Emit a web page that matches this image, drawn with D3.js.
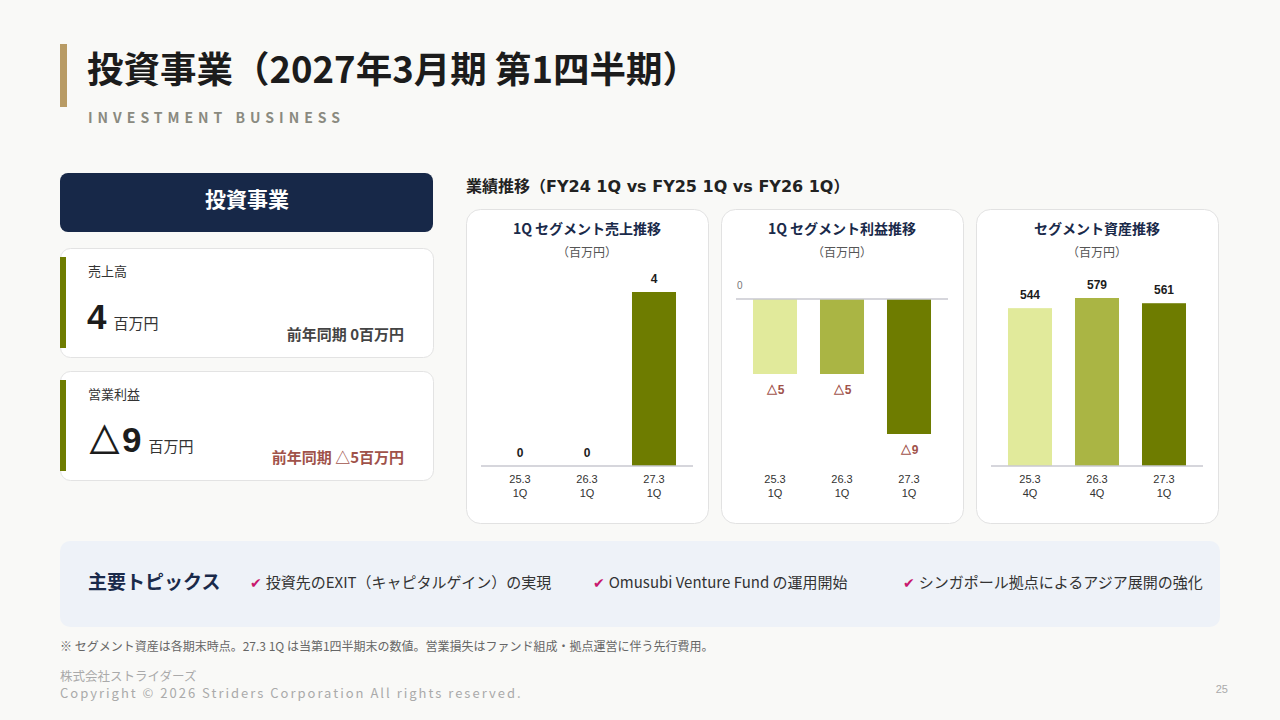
<!DOCTYPE html>
<html lang="ja">
<head>
<meta charset="utf-8">
<script src="https://cdn.jsdelivr.net/npm/d3@7"></script>
<style>
  html, body { margin: 0; padding: 0; background: #f9f9f7; }
  svg { display: block; }
  text { font-family: "Noto Sans CJK JP", "Noto Sans", sans-serif; }
  .num { font-family: "Liberation Sans", Arial, sans-serif; }
  .lat { font-family: "DejaVu Sans", sans-serif; }
</style>
</head>
<body>
<div id="chart"></div>
<script>
// ---- data ----
const periods = ["25.3", "26.3", "27.3"];
const salesQuarters = ["1Q", "1Q", "1Q"];
const assetQuarters = ["4Q", "4Q", "1Q"];
const salesValues = [0, 0, 4];
const profitValues = [-5, -5, -9];
const assetValues = [544, 579, 561];
const barColors = ["#e1ea9b", "#aab544", "#6e7c00"];
const topics = [
  "投資先のEXIT（キャピタルゲイン）の実現",
  "Omusubi Venture Fund の運用開始",
  "シンガポール拠点によるアジア展開の強化"
];

const W = 1280, H = 720;
const navy = "#1a2a4a", loss = "#a0524a";

const svg = d3.select("#chart").append("svg")
  .attr("width", W).attr("height", H);

svg.append("rect").attr("width", W).attr("height", H).attr("fill", "#f9f9f7");

// header
svg.append("rect").attr("x", 60).attr("y", 44).attr("width", 7).attr("height", 63).attr("fill", "#b89b65");
svg.append("text").attr("x", 87).attr("y", 83)
  .attr("font-size", 36.5).attr("font-weight", 700).attr("fill", "#1c1c1c")
  .text("投資事業（2027年3月期 第1四半期）");
svg.append("text").attr("x", 88).attr("y", 123)
  .attr("font-size", 14).attr("font-weight", 700).attr("fill", "#8a8a80")
  .attr("letter-spacing", "5px")
  .attr("font-family", "Liberation Sans, Arial, sans-serif")
  .text("INVESTMENT BUSINESS");

// left side
svg.append("rect").attr("x", 60).attr("y", 173).attr("width", 373).attr("height", 59)
  .attr("rx", 8).attr("fill", "#172848");
svg.append("text").attr("x", 247).attr("y", 207).attr("text-anchor", "middle")
  .attr("font-size", 21).attr("font-weight", 700).attr("fill", "#fff").text("投資事業");

function kpiCard(y, label, value, prev, prevColor) {
  const g = svg.append("g").attr("transform", `translate(60,${y})`);
  g.append("rect").attr("x", 0.5).attr("y", 0.5).attr("width", 373).attr("height", 109)
    .attr("rx", 10).attr("fill", "#fff").attr("stroke", "#e3e3e3");
  g.append("rect").attr("x", 0).attr("y", 9).attr("width", 6).attr("height", 91).attr("fill", "#6e7c00");
  g.append("text").attr("x", 28).attr("y", 28).attr("font-size", 13).attr("fill", "#333").text(label);
  const t = g.append("text").attr("x", 27).attr("y", 81);
  t.append("tspan").attr("class", "num").attr("font-size", 35).attr("font-weight", 700)
    .attr("fill", "#1c1c1c").text(value);
  t.append("tspan").attr("dx", 7).attr("font-size", 15).attr("fill", "#333").text("百万円");
  g.append("text").attr("x", 344).attr("y", 92).attr("text-anchor", "end")
    .attr("font-size", 15).attr("font-weight", 700).attr("fill", prevColor).text(prev);
}
kpiCard(248, "売上高", "4", "前年同期 0百万円", "#444");
kpiCard(371, "営業利益", "△9", "前年同期 △5百万円", loss);

// charts
const head = svg.append("text").attr("x", 466).attr("y", 192)
  .attr("font-size", 16).attr("font-weight", 700).attr("fill", "#222");
head.append("tspan").text("業績推移（");
head.append("tspan").attr("class", "lat").text("FY24 1Q vs FY25 1Q vs FY26 1Q");
head.append("tspan").text("）");

function fmt(v) { return v < 0 ? "△" + Math.abs(v) : String(v); }

function drawPanel(px, title, values, quarters, domain, range, showZero) {
  const g = svg.append("g").attr("transform", `translate(${px},209)`);
  g.append("rect").attr("x", 0.5).attr("y", 0.5).attr("width", 242).attr("height", 314)
    .attr("rx", 14).attr("fill", "#fff").attr("stroke", "#e2e2e2");
  g.append("text").attr("x", 121).attr("y", 25).attr("text-anchor", "middle")
    .attr("font-size", 14).attr("font-weight", 700).attr("fill", navy).text(title);
  g.append("text").attr("x", 121).attr("y", 48).attr("text-anchor", "middle")
    .attr("font-size", 12).attr("fill", "#555").text("（百万円）");

  const x = d3.scaleBand().domain(periods).range([20.5, 221.5])
    .paddingInner(0.343).paddingOuter(0.1715);
  const y = d3.scaleLinear().domain(domain).range(range);
  const y0 = y(0);

  g.selectAll(".bar").data(values).join("rect")
    .attr("class", "bar")
    .attr("x", (d, i) => x(periods[i]))
    .attr("width", x.bandwidth())
    .attr("y", d => Math.min(y(d), y0))
    .attr("height", d => Math.abs(y(d) - y0))
    .attr("fill", (d, i) => barColors[i]);

  g.append("line").attr("x1", 15).attr("x2", 227).attr("y1", y0).attr("y2", y0)
    .attr("stroke", "#c9c9d1").attr("stroke-width", 1.5);

  if (showZero) {
    g.append("text").attr("class", "num").attr("x", 16).attr("y", y0 - 10)
      .attr("font-size", 10).attr("fill", "#777").text("0");
  }

  g.selectAll(".val").data(values).join("text")
    .attr("class", "val num")
    .attr("x", (d, i) => x(periods[i]) + x.bandwidth() / 2)
    .attr("y", d => d < 0 ? y(d) + 20 : y(d) - 9)
    .attr("text-anchor", "middle")
    .attr("font-size", 12).attr("font-weight", 700)
    .attr("fill", d => d < 0 ? loss : "#1c1c1c")
    .text(fmt);

  const labels = g.selectAll(".xl").data(periods).join("text")
    .attr("class", "xl num")
    .attr("text-anchor", "middle")
    .attr("font-size", 11).attr("fill", "#333");
  labels.append("tspan").attr("x", d => x(d) + x.bandwidth() / 2).attr("y", 274).text(d => d);
  labels.append("tspan").attr("x", d => x(d) + x.bandwidth() / 2).attr("y", 288)
    .text((d, i) => quarters[i]);
}

drawPanel(466, "1Q セグメント売上推移", salesValues, salesQuarters, [0, 4], [257, 83], false);
drawPanel(721, "1Q セグメント利益推移", profitValues, salesQuarters, [-9, 0], [225, 90], true);
drawPanel(976, "セグメント資産推移", assetValues, assetQuarters, [0, 579], [257, 89], false);

// topics
svg.append("rect").attr("x", 60).attr("y", 541).attr("width", 1160).attr("height", 86)
  .attr("rx", 10).attr("fill", "#eef2f8");
svg.append("text").attr("x", 88).attr("y", 589)
  .attr("font-size", 19).attr("font-weight", 700).attr("fill", navy).text("主要トピックス");
const topicX = [250, 593, 903];
topics.forEach((t, i) => {
  const tt = svg.append("text").attr("x", topicX[i]).attr("y", 588).attr("font-size", 15);
  tt.append("tspan").attr("fill", "#c8186e").attr("font-weight", 700).attr("font-size", 14)
    .attr("font-family", "DejaVu Sans, sans-serif").text("✔");
  tt.append("tspan").attr("dx", 4).attr("fill", "#333").text(t);
});

// notes / footer
svg.append("text").attr("x", 60).attr("y", 651).attr("font-size", 12).attr("fill", "#666")
  .text("※ セグメント資産は各期末時点。27.3 1Q は当第1四半期末の数値。営業損失はファンド組成・拠点運営に伴う先行費用。");
svg.append("text").attr("x", 60).attr("y", 681).attr("font-size", 12.5).attr("fill", "#aaa")
  .text("株式会社ストライダーズ");
svg.append("text").attr("x", 60).attr("y", 698).attr("font-size", 13).attr("fill", "#aaa")
  .attr("letter-spacing", "2px").attr("font-family", "DejaVu Sans, sans-serif")
  .text("Copyright © 2026 Striders Corporation All rights reserved.");
svg.append("text").attr("class", "num").attr("x", 1228).attr("y", 693).attr("text-anchor", "end")
  .attr("font-size", 11).attr("fill", "#aaa").text("25");
</script>
</body>
</html>
